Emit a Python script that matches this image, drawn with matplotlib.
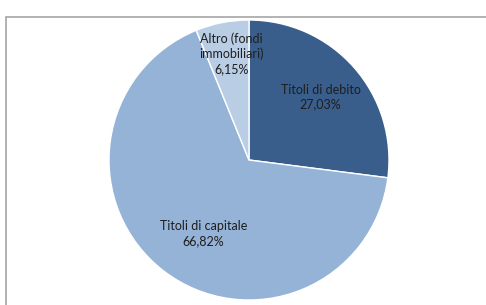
import numpy as np
import matplotlib
matplotlib.use("Agg")
import matplotlib.pyplot as plt
from matplotlib.patches import Rectangle

# data
categories = ["Titoli di debito", "Titoli di capitale", "Altro (fondi\nimmobiliari)"]
shares = [27.03, 66.82, 6.15]
share_labels = ["27,03%", "66,82%", "6,15%"]

colors = ["#395E8C", "#95B3D7", "#B9CDE5"]
label_r = [0.68, 0.62, 0.77]       # label distance as fraction of radius
label_dang = [0.0, 6.0, -1.5]      # small angle nudges (deg)

W, H = 486, 305
fig = plt.figure(figsize=(W / 100, H / 100), dpi=100)
ax = fig.add_axes([0, 0, 1, 1])

cx, cy, R = 249, 145, 140
wedges, _ = ax.pie(shares, colors=colors, startangle=90, counterclock=False,
                   center=(cx, cy), radius=R, frame=True,
                   wedgeprops=dict(edgecolor="white", linewidth=1.0))
ax.set_xlim(0, W)
ax.set_ylim(0, H)
ax.set_aspect("equal")
ax.axis("off")

# chart frame
ax.add_patch(Rectangle((5.5, -5), W, H - 12, fill=False, ec="#A6A6A6", lw=1.2))

for w, cat, lab, rf, da in zip(wedges, categories, share_labels, label_r, label_dang):
    ang = np.deg2rad((w.theta1 + w.theta2) / 2 + da)
    x = cx + rf * R * np.cos(ang)
    y = cy + rf * R * np.sin(ang)
    ax.text(x, y, cat + "\n" + lab, ha="center", va="center", fontsize=9,
            family="Lato", color="#1E1E1E", linespacing=1.3)

fig.savefig("out.png", dpi=100)
